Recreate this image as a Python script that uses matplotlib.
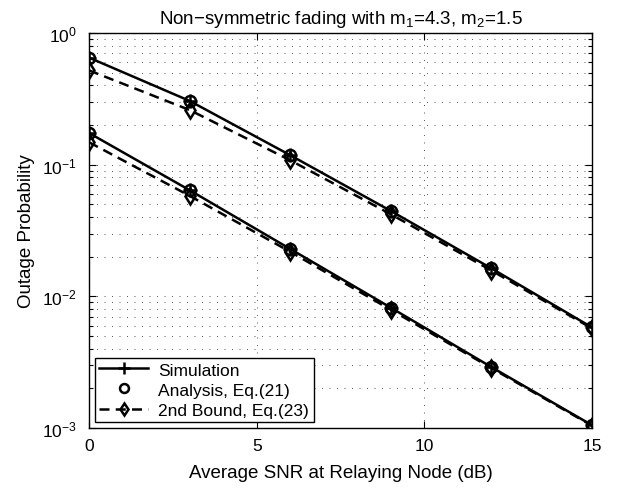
import matplotlib
matplotlib.use("Agg")
import matplotlib.pyplot as plt
from matplotlib.ticker import LogLocator, NullFormatter, MultipleLocator

plt.rcParams['font.family'] = ['Liberation Sans', 'DejaVu Sans']
plt.rcParams['mathtext.default'] = 'regular'

# values
snr_db = [0, 3, 6, 9, 12, 15]

# upper pair of curves
sim_hi = [0.65, 0.305, 0.118, 0.0445, 0.0163, 0.0058]
ana_hi = [0.65, 0.305, 0.118, 0.0445, 0.0163, 0.0058]
bnd_hi = [0.52, 0.26, 0.108, 0.042, 0.0157, 0.0057]

# lower pair of curves
sim_lo = [0.174, 0.064, 0.0229, 0.0082, 0.0029, 0.00105]
ana_lo = [0.174, 0.064, 0.0229, 0.0082, 0.0029, 0.00105]
bnd_lo = [0.148, 0.058, 0.0218, 0.0079, 0.00285, 0.00104]

fig = plt.figure(figsize=(6.18, 4.89), dpi=100)
ax = fig.add_axes([0.144, 0.1227, 0.814, 0.8078])

lw = 1.8
dash = (0, (4, 2.5))
for sim, ana, bnd in [(sim_hi, ana_hi, bnd_hi), (sim_lo, ana_lo, bnd_lo)]:
    ax.plot(snr_db, sim, color='k', lw=lw, marker='+', ms=10, mew=1.8,
            label='Simulation')
    ax.plot(snr_db, ana, color='k', ls='none', marker='o', ms=8, mew=1.8,
            mfc='none', label='Analysis, Eq.(21)')
    ax.plot(snr_db, bnd, color='k', lw=lw, ls=dash, marker='d', ms=8,
            mew=1.8, mfc='none', label='2nd Bound, Eq.(23)')

ax.set_yscale('log')
ax.set_xlim(0, 15)
ax.set_ylim(1e-3, 1)
ax.xaxis.set_major_locator(MultipleLocator(5))
ax.yaxis.set_major_locator(LogLocator(base=10, numticks=10))
ax.yaxis.set_minor_locator(LogLocator(base=10, subs=range(2, 10), numticks=20))
ax.yaxis.set_minor_formatter(NullFormatter())

# matlab style dotted grid
grid_style = dict(color='0.25', ls=(0, (1.2, 7.8)), lw=0.6)
ax.grid(True, which='major', axis='both', **grid_style)
ax.grid(True, which='minor', axis='y', **grid_style)

ax.tick_params(which='both', direction='in', top=True, right=True,
               labelsize=12.5, width=0.8)
ax.tick_params(which='major', length=5)
ax.tick_params(which='minor', length=3)
ax.tick_params(axis='x', pad=7)
ax.tick_params(axis='y', pad=9)
for s in ax.spines.values():
    s.set_linewidth(1.0)

ax.set_title('Non\u2212symmetric fading with m$_1$=4.3, m$_2$=1.5', fontsize=13.5, pad=7)
ax.set_xlabel('Average SNR at Relaying Node (dB)', fontsize=13.5, labelpad=8)
ax.set_ylabel('Outage Probability', fontsize=13.5, labelpad=5)

handles, labels = ax.get_legend_handles_labels()
leg = ax.legend(handles[:3], labels[:3], loc='lower left', fontsize=12.5,
                fancybox=False, framealpha=1, edgecolor='k',
                borderaxespad=0.35, handlelength=2.8, handletextpad=0.6,
                labelspacing=0.28, borderpad=0.25, markerscale=0.8)
leg.get_frame().set_linewidth(1.0)

fig.savefig('out.png', dpi=100)
